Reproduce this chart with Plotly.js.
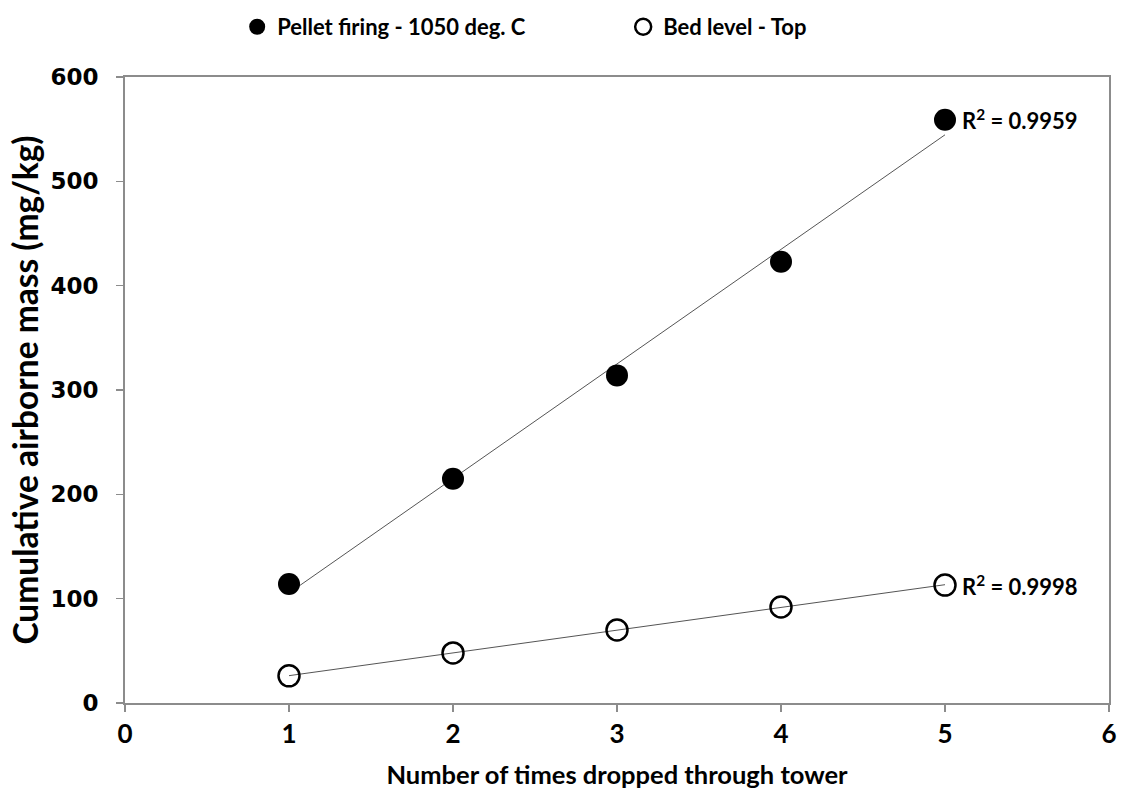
<!DOCTYPE html>
<html>
<head>
<meta charset="utf-8">
<script src="https://cdn.plot.ly/plotly-3.0.1.min.js"></script>
<style>html,body{margin:0;padding:0;background:#fff;}#chart{width:1125px;height:800px;}</style>
</head>
<body>
<div id="chart"></div>
<script>
// Data
const dropCount = [1, 2, 3, 4, 5];
const pelletFiring = [114, 215, 314, 423, 559];
const bedLevelTop = [26, 48, 70, 92, 113];
const seriesNames = ['Pellet firing - 1050 deg. C', 'Bed level - Top'];
const rSquaredLabels = ['0.9959', '0.9998'];

// Least-squares linear trendline from the data
function linFit(xs, ys) {
  const n = xs.length;
  const mx = xs.reduce((a, b) => a + b, 0) / n;
  const my = ys.reduce((a, b) => a + b, 0) / n;
  let sxy = 0, sxx = 0;
  for (let i = 0; i < n; i++) { sxy += (xs[i] - mx) * (ys[i] - my); sxx += (xs[i] - mx) ** 2; }
  const m = sxy / sxx, b = my - m * mx;
  return xs.map(x => m * x + b);
}

const F = 'Lato, "Open Sans", sans-serif';
const trendStyle = {color: '#555555', width: 1};

const traces = [
  {x: dropCount, y: linFit(dropCount, pelletFiring), mode: 'lines', line: trendStyle, showlegend: false, hoverinfo: 'skip'},
  {x: dropCount, y: linFit(dropCount, bedLevelTop), mode: 'lines', line: trendStyle, showlegend: false, hoverinfo: 'skip'},
  {x: dropCount, y: pelletFiring, mode: 'markers', name: seriesNames[0],
   marker: {symbol: 'circle', size: 22, color: '#000000'}},
  {x: dropCount, y: bedLevelTop, mode: 'markers', name: seriesNames[1],
   marker: {symbol: 'circle-open', size: 21, color: '#000000', line: {width: 2.5, color: '#000000'}}}
];

const axisCommon = {
  showline: true, mirror: true, linecolor: '#8c8c8c', linewidth: 2,
  ticks: 'outside', ticklen: 7, tickcolor: '#8c8c8c', tickwidth: 1.5,
  showgrid: false, zeroline: false
};

const layout = {
  width: 1125, height: 800,
  margin: {l: 125, r: 16, t: 77, b: 97, autoexpand: false},
  paper_bgcolor: '#ffffff', plot_bgcolor: '#ffffff',
  font: {family: F, color: '#000000'},
  showlegend: true,
  legend: {orientation: 'h', x: 0.114, xanchor: 'left', y: 1.08, yanchor: 'middle',
           font: {family: F, size: 22, weight: 'bold', color: '#000000'}, entrywidth: 341, itemwidth: 30},
  xaxis: Object.assign({}, axisCommon, {
    range: [0, 6], dtick: 1, tick0: 0,
    tickfont: {family: F, size: 26, weight: 'bold'},
    title: {text: 'Number of times dropped through tower', standoff: 18, font: {family: F, size: 25.5, weight: 'bold'}}
  }),
  yaxis: Object.assign({}, axisCommon, {
    range: [0, 600], dtick: 100, tick0: 0,
    ticklabelstandoff: 13,
    tickfont: {family: '"DejaVu Sans", sans-serif', size: 23, weight: 'bold'},
    title: {text: 'Cumulative airborne mass (mg/kg)', standoff: 2, font: {family: F, size: 33.5, weight: 'bold'}}
  }),
  annotations: [
    {x: dropCount[4], y: pelletFiring[4], xref: 'x', yref: 'y', xanchor: 'left', yanchor: 'middle', xshift: 15, showarrow: false,
     text: 'R<sup>2</sup> = ' + rSquaredLabels[0], font: {family: F, size: 22, weight: 'bold', color: '#000000'}},
    {x: dropCount[4], y: bedLevelTop[4], xref: 'x', yref: 'y', xanchor: 'left', yanchor: 'middle', xshift: 15, showarrow: false,
     text: 'R<sup>2</sup> = ' + rSquaredLabels[1], font: {family: F, size: 22, weight: 'bold', color: '#000000'}}
  ]
};

Plotly.newPlot('chart', traces, layout, {displayModeBar: false, staticPlot: true});
</script>
</body>
</html>
